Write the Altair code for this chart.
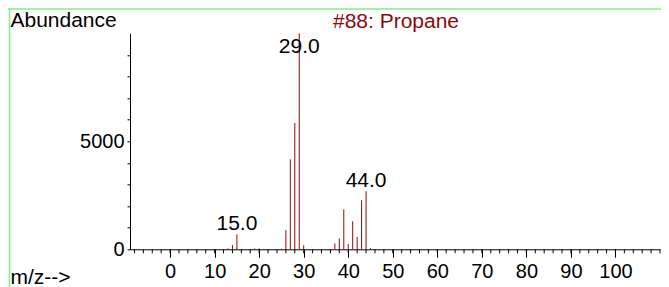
import altair as alt
import pandas as pd

# ---- data ----
mz = [13, 14, 15, 19, 20, 25, 26, 27, 28, 29, 30, 37, 38, 39, 40, 41, 42, 43, 44, 45]
abundance = [46, 195, 690, 40, 40, 30, 895, 4167, 5849, 9999, 190,
             270, 500, 1850, 240, 1300, 570, 2275, 2690, 55]
labeled_mz = [15, 29, 44]
x_major_ticks = [0, 10, 20, 30, 40, 50, 60, 70, 80, 90, 100]
x_minor_ticks = [-8, -6, -4, -2, 0, 2, 4, 6, 8, 10, 12, 14, 16, 18, 20, 22, 24, 26, 28,
                 30, 32, 34, 36, 38, 40, 42, 44, 46, 48, 50, 52, 54, 56, 58, 60, 62,
                 64, 66, 68, 70, 72, 74, 76, 78, 80, 82, 84, 86, 88, 90, 92, 94, 96,
                 98, 100, 102, 104, 106, 108, 110]
y_ticks = [0, 1000, 2000, 3000, 4000, 5000, 6000, 7000, 8000, 9000]
y_labels = [0, 5000]
title_text = "#88: Propane"
x_title = "m/z-->"
y_title = "Abundance"

FONT = "Liberation Sans"
RED = "#8b0a0a"
GREEN = "#80f080"
W, H = 530, 216

peak_df = pd.DataFrame({"mz": mz, "ab": abundance})
label_df = peak_df[peak_df["mz"].isin(labeled_mz)].copy()
label_df["lab"] = [f"{m:.1f}" for m in label_df["mz"]]

xscale = alt.Scale(domain=[-9, 110], nice=False, zero=False)
yscale = alt.Scale(domain=[0, 10000], nice=False, zero=False)

xaxis = alt.Axis(values=x_major_ticks, title=x_title, tickSize=8, labelPadding=4,
                 labelFontSize=20, labelFlush=False, labelOverlap=False,
                 titleFontSize=21, titleX=-120, titleY=34, titleAlign="left",
                 titleBaseline="alphabetic", titleAngle=0)
yaxis = alt.Axis(values=y_ticks, format="d",
                 labelExpr="datum.value == 0 || datum.value == 5000 ? datum.label : ''",
                 tickSize=3, labelPadding=3, labelFontSize=20, labelOverlap=False,
                 title=y_title, titleFontSize=21, titleAngle=0, titleX=-120, titleY=-6.6,
                 titleAlign="left", titleBaseline="alphabetic")

frame_v = alt.Chart(pd.DataFrame({"a": [0]})).mark_rule(color=GREEN, strokeWidth=1.5).encode(
    x=alt.value(-120.5), y=alt.value(-25.3), y2=alt.value(H + 70))
frame_h = alt.Chart(pd.DataFrame({"a": [0]})).mark_rule(color=GREEN, strokeWidth=1.5).encode(
    x=alt.value(-122), x2=alt.value(W + 2), y=alt.value(-24.4))

peaks = alt.Chart(peak_df).mark_rule(color=RED, strokeWidth=1).encode(
    x=alt.X("mz:Q", scale=xscale, axis=xaxis),
    y=alt.Y("ab:Q", scale=yscale, axis=yaxis),
    y2=alt.datum(0),
)

minor = alt.Chart(pd.DataFrame({"t": x_minor_ticks})).mark_rule(color="black", strokeWidth=1).encode(
    x=alt.X("t:Q", scale=xscale, axis=xaxis),
    y=alt.value(H),
    y2=alt.value(H + 4),
)

labels = alt.Chart(label_df).transform_calculate(
    ly="min(datum.ab, 8870)"
).mark_text(font=FONT, fontSize=21, color="black", align="center",
            baseline="alphabetic", dy=-4.5).encode(
    x=alt.X("mz:Q", scale=xscale, axis=xaxis),
    y=alt.Y("ly:Q", scale=yscale, axis=yaxis),
    text="lab:N",
)

title = alt.Chart(pd.DataFrame({"t": [title_text]})).mark_text(
    font=FONT, fontSize=21, color=RED, align="left", baseline="alphabetic"
).encode(x=alt.value(203), y=alt.value(-5), text="t:N")

chart = alt.layer(frame_v, frame_h, peaks, minor, labels, title).properties(
    width=W, height=H,
    autosize=alt.AutoSizeParams(type="none"),
    padding={"left": 122, "top": 25.3, "right": 1, "bottom": 40},
).configure_view(strokeWidth=0).configure_axis(
    domainColor="black", tickColor="black", labelColor="black", titleColor="black",
    labelFont=FONT, titleFont=FONT, titleFontWeight="normal", grid=False,
    domainWidth=1, tickWidth=1,
)

chart.save("out.html", embed_options={"renderer": "svg", "actions": False})
